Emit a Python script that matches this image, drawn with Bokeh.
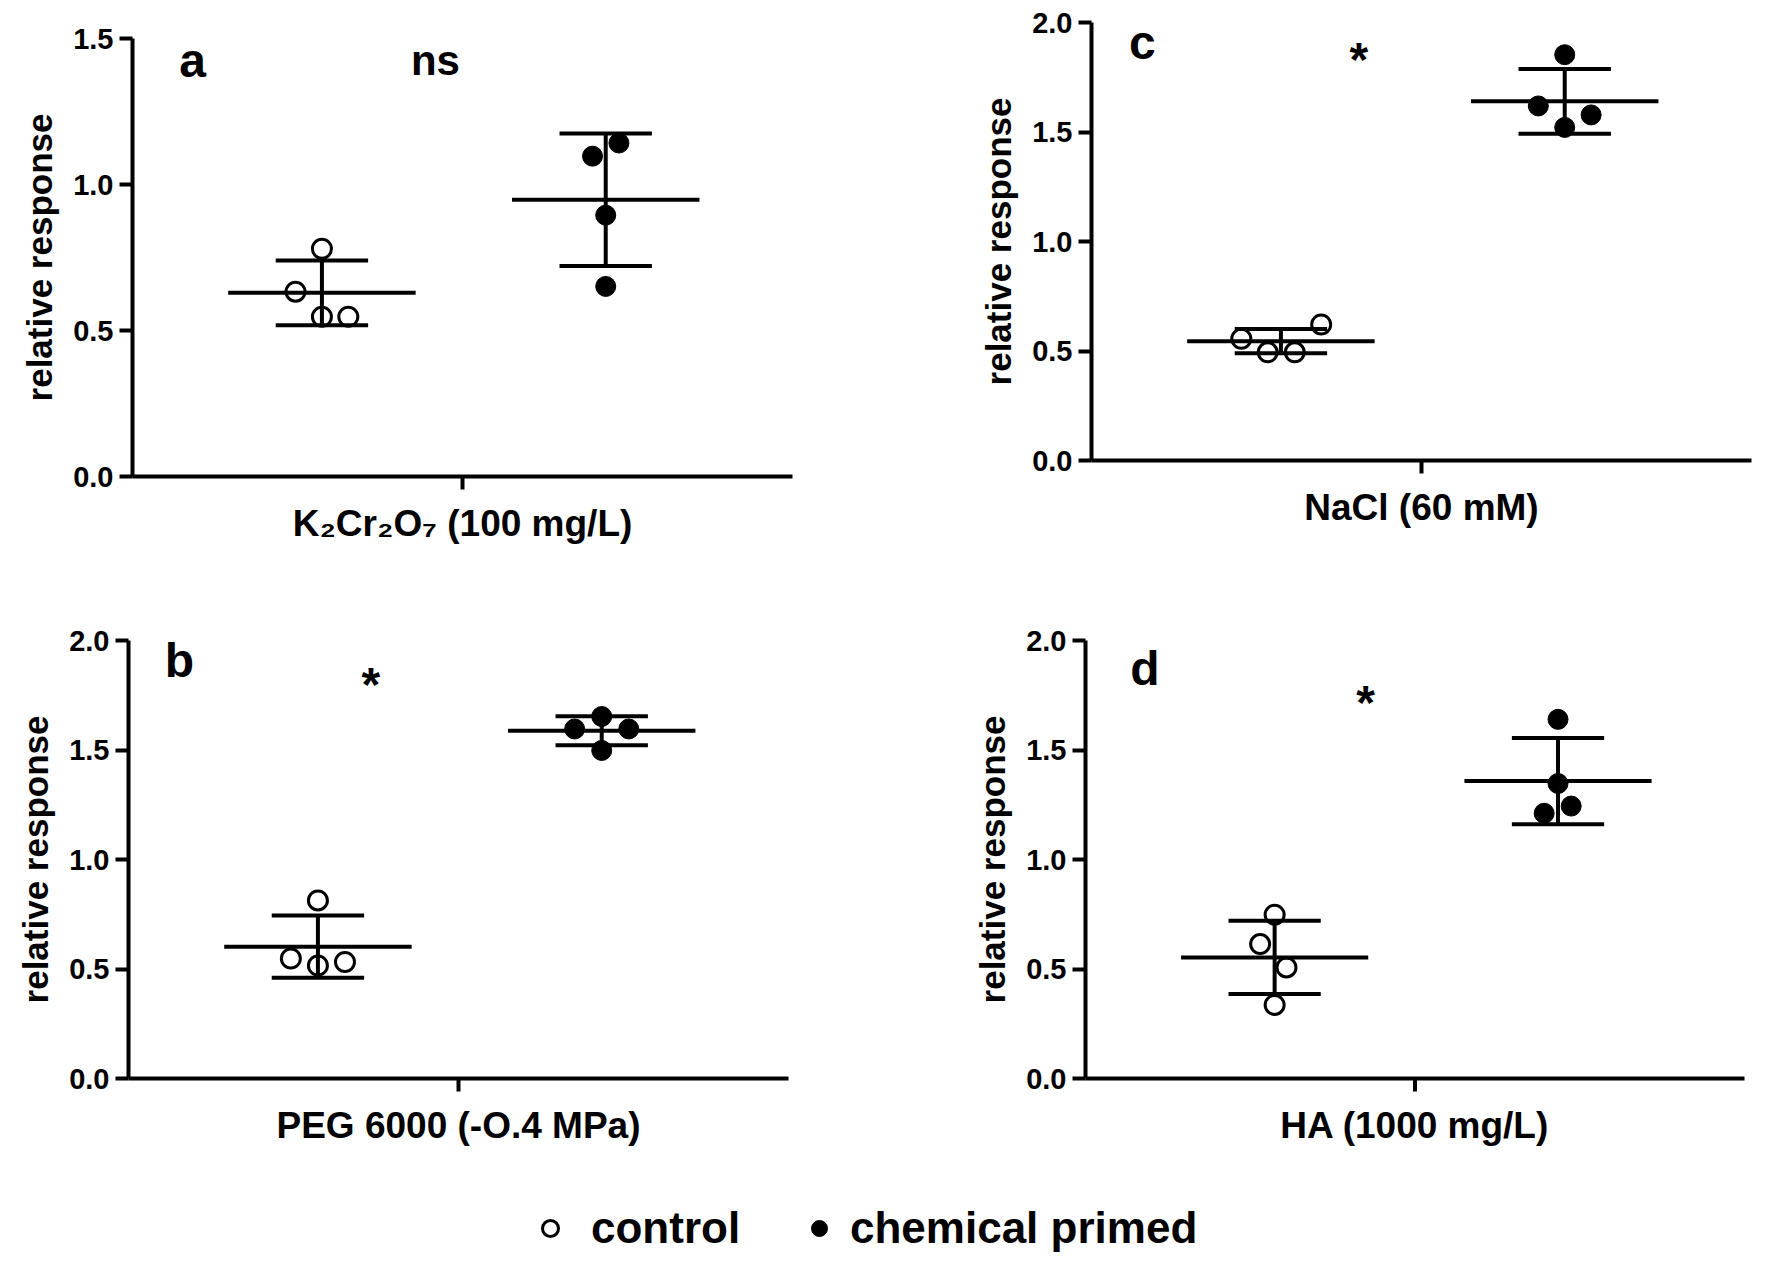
from bokeh.plotting import figure
from bokeh.layouts import column, row
from bokeh.models import Range1d, FixedTicker, NumeralTickFormatter, Label, Legend, LegendItem
from bokeh.embed import file_html
from bokeh.resources import INLINE
from bokeh.core.properties import value

FONT = "Liberation Sans"

# ---------------- data ----------------
GROUP_NAMES = ["control", "chemical primed"]
GROUP_X = [0.287, 0.717]          # position of the two groups on the 0..1 category axis
CATEGORY_TICK = [0.5]             # the single category tick on each x axis
Y_LABEL = "relative response"

# panel a : K2Cr2O7
A_XLABEL = "K\u2082Cr\u2082O\u2087 (100 mg/L)"
A_CONTROL = [0.780, 0.633, 0.547, 0.547]
A_CONTROL_DX = [0.0, -0.040, 0.0, 0.040]
A_PRIMED = [1.142, 1.097, 0.895, 0.651]
A_PRIMED_DX = [0.020, -0.020, 0.0, 0.0]
A_MEAN = [0.629, 0.948]
A_SD = [0.111, 0.227]
A_YTICKS = [0.0, 0.5, 1.0, 1.5]
A_SIG = "ns"

# panel b : PEG 6000
B_XLABEL = "PEG 6000 (-O.4 MPa)"
B_CONTROL = [0.813, 0.548, 0.516, 0.532]
B_CONTROL_DX = [0.0, -0.041, 0.0, 0.041]
B_PRIMED = [1.653, 1.596, 1.596, 1.498]
B_PRIMED_DX = [0.0, -0.041, 0.041, 0.0]
B_MEAN = [0.602, 1.588]
B_SD = [0.142, 0.066]
B_YTICKS = [0.0, 0.5, 1.0, 1.5, 2.0]
B_SIG = "*"

# panel c : NaCl
C_XLABEL = "NaCl (60 mM)"
C_CONTROL = [0.556, 0.494, 0.494, 0.621]
C_CONTROL_DX = [-0.060, -0.020, 0.021, 0.061]
C_PRIMED = [1.853, 1.619, 1.578, 1.521]
C_PRIMED_DX = [0.0, -0.040, 0.040, 0.0]
C_MEAN = [0.545, 1.640]
C_SD = [0.055, 0.148]
C_YTICKS = [0.0, 0.5, 1.0, 1.5, 2.0]
C_SIG = "*"

# panel d : HA
D_XLABEL = "HA (1000 mg/L)"
D_CONTROL = [0.748, 0.614, 0.507, 0.336]
D_CONTROL_DX = [0.0, -0.022, 0.018, 0.0]
D_PRIMED = [1.640, 1.347, 1.244, 1.211]
D_PRIMED_DX = [0.0, 0.0, 0.020, -0.021]
D_MEAN = [0.553, 1.358]
D_SD = [0.167, 0.197]
D_YTICKS = [0.0, 0.5, 1.0, 1.5, 2.0]
D_SIG = "*"

MEAN_HW = 0.142
CAP_HW = 0.070
FRAME_H = 438
TICK_LEN = 13


def make_panel(width, height, left, right, top, bottom, ymax, yticks, xlabel,
               ctrl, ctrl_dx, prim, prim_dx, means, sds,
               letter, letter_xy, sig, sig_xy):
    p = figure(width=width, height=height, toolbar_location=None, output_backend="svg",
               x_range=Range1d(0, 1), y_range=Range1d(0, ymax),
               min_border_left=left, min_border_right=right,
               min_border_top=top, min_border_bottom=bottom, frame_align=False)
    p.outline_line_color = None
    p.grid.visible = False
    p.background_fill_color = "white"
    p.border_fill_color = "white"
    for ax in (p.xaxis[0], p.yaxis[0]):
        ax.axis_line_width = 4
        ax.axis_line_color = "black"
        ax.major_tick_line_width = 4
        ax.major_tick_line_color = "black"
        ax.major_tick_out = TICK_LEN
        ax.major_tick_in = 0
        ax.minor_tick_out = 0
        ax.minor_tick_in = 0
        ax.axis_label_text_font = FONT
        ax.axis_label_text_font_style = "bold"
        ax.axis_label_text_font_size = "36px"
        ax.axis_label_text_color = "black"
        ax.major_label_text_font = FONT
        ax.major_label_text_font_style = "bold"
        ax.major_label_text_font_size = "29px"
        ax.major_label_text_color = "black"
    # x axis: no tick labels; the category tick is drawn below as an unclipped segment
    p.xaxis.ticker = FixedTicker(ticks=[])
    p.xaxis.major_tick_out = 0
    p.xaxis.axis_label = xlabel
    p.xaxis.axis_label_text_font_size = "37px"
    p.xaxis.axis_label_standoff = 26
    p.yaxis.ticker = FixedTicker(ticks=yticks)
    p.yaxis.formatter = NumeralTickFormatter(format="0.0")
    p.yaxis.major_label_standoff = 6
    p.yaxis.axis_label = Y_LABEL
    p.yaxis.axis_label_text_font_size = "35px"
    p.yaxis.axis_label_standoff = 11

    tick_depth = ymax * TICK_LEN / FRAME_H
    p.segment(x0=CATEGORY_TICK, x1=CATEGORY_TICK, y0=[0.0], y1=[-tick_depth],
              line_width=4, line_color="black", level="overlay")

    # points
    p.scatter(x=[GROUP_X[0] + d for d in ctrl_dx], y=ctrl, marker="circle", size=19,
              fill_color="white", line_color="black", line_width=3)
    p.scatter(x=[GROUP_X[1] + d for d in prim_dx], y=prim, marker="circle", size=20,
              fill_color="black", line_color="black", line_width=1)
    # mean and SD
    lo = [m - s for m, s in zip(means, sds)]
    hi = [m + s for m, s in zip(means, sds)]
    p.segment(x0=[g - MEAN_HW for g in GROUP_X], x1=[g + MEAN_HW for g in GROUP_X],
              y0=means, y1=means, line_width=4, line_color="black")
    p.segment(x0=[g - CAP_HW for g in GROUP_X], x1=[g + CAP_HW for g in GROUP_X],
              y0=hi, y1=hi, line_width=4, line_color="black")
    p.segment(x0=[g - CAP_HW for g in GROUP_X], x1=[g + CAP_HW for g in GROUP_X],
              y0=lo, y1=lo, line_width=4, line_color="black")
    p.segment(x0=GROUP_X, x1=GROUP_X, y0=lo, y1=hi, line_width=4, line_color="black")

    p.add_layout(Label(x=letter_xy[0], y=letter_xy[1], text=letter, text_font=FONT,
                       text_font_style="bold", text_font_size="48px", text_color="black",
                       text_align="center", text_baseline="middle"))
    is_star = sig == "*"
    p.add_layout(Label(x=sig_xy[0], y=sig_xy[1], text=sig, text_font=FONT,
                       text_font_style="bold", text_font_size="48px" if is_star else "42px",
                       text_color="black", text_align="center", text_baseline="middle",
                       y_offset=-4 if is_star else 3))
    return p


fa = make_panel(970, 600, 132, 178, 38, 124, 1.5, A_YTICKS, A_XLABEL,
                A_CONTROL, A_CONTROL_DX, A_PRIMED, A_PRIMED_DX, A_MEAN, A_SD,
                "a", (0.091, 1.426), A_SIG, (0.459, 1.415))
fc = make_panel(802, 600, 121, 21, 22, 140, 2.0, C_YTICKS, C_XLABEL,
                C_CONTROL, C_CONTROL_DX, C_PRIMED, C_PRIMED_DX, C_MEAN, C_SD,
                "c", (0.077, 1.909), C_SIG, (0.405, 1.848))
fb = make_panel(970, 550, 128, 182, 40, 72, 2.0, B_YTICKS, B_XLABEL,
                B_CONTROL, B_CONTROL_DX, B_PRIMED, B_PRIMED_DX, B_MEAN, B_SD,
                "b", (0.077, 1.907), B_SIG, (0.367, 1.817))
fd = make_panel(802, 550, 112, 28, 40, 72, 2.0, D_YTICKS, D_XLABEL,
                D_CONTROL, D_CONTROL_DX, D_PRIMED, D_PRIMED_DX, D_MEAN, D_SD,
                "d", (0.090, 1.874), D_SIG, (0.425, 1.735))

# legend strip
lg = figure(width=1772, height=114, toolbar_location=None, output_backend="svg",
            x_range=Range1d(0, 1), y_range=Range1d(0, 1), x_axis_type=None, y_axis_type=None,
            min_border=0, frame_align=False)
lg.outline_line_color = None
lg.grid.visible = False
# renderers used only for the legend swatches (their points lie outside the visible range)
r_ctrl = lg.scatter(x=[-10], y=[-10], marker="circle", size=16, fill_color="white",
                    line_color="black", line_width=3)
r_prim = lg.scatter(x=[-10], y=[-10], marker="circle", size=16, fill_color="black",
                    line_color="black", line_width=1)
LEGEND_STYLE = dict(orientation="horizontal", padding=0, margin=0,
                    glyph_width=40, glyph_height=40,
                    label_text_font=FONT, label_text_font_style="bold",
                    label_text_font_size="44px", label_text_color="black",
                    border_line_color=None, background_fill_alpha=0)
legend1 = Legend(items=[LegendItem(label=value(GROUP_NAMES[0]), renderers=[r_ctrl])],
                 location=(530, 11), label_standoff=21, **LEGEND_STYLE)
legend2 = Legend(items=[LegendItem(label=value(GROUP_NAMES[1]), renderers=[r_prim])],
                 location=(799, 11), label_standoff=11, **LEGEND_STYLE)
lg.add_layout(legend1)
lg.add_layout(legend2)

layout = column(row(fa, fc), row(fb, fd), lg)
open("out.html", "w").write(file_html(layout, INLINE))
